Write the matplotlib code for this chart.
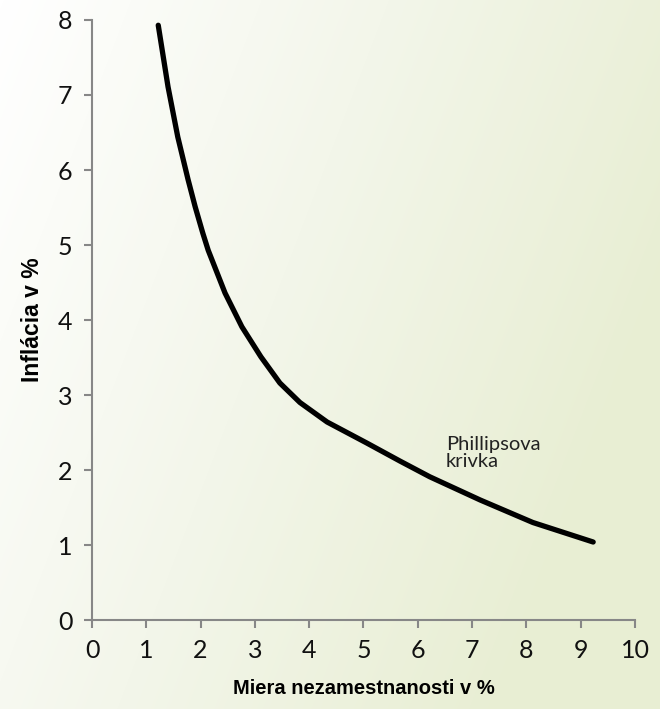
import numpy as np
import matplotlib
matplotlib.use("Agg")
import matplotlib.pyplot as plt
from matplotlib.colors import LinearSegmentedColormap

# Data
unemployment = [1.22, 1.40, 1.58, 1.77, 1.90, 2.04, 2.14, 2.45, 2.76, 3.11, 3.46,
                3.83, 4.33, 5.06, 5.67, 6.22, 7.15, 8.12, 9.23]
inflation    = [7.93, 7.11, 6.44, 5.87, 5.51, 5.16, 4.93, 4.36, 3.91, 3.51, 3.16,
                2.90, 2.64, 2.36, 2.12, 1.91, 1.60, 1.30, 1.04]
x_ticks = list(range(0, 11))
y_ticks = list(range(0, 9))
curve_label = "Phillipsova\nkrivka"
x_label = "Miera nezamestnanosti v %"
y_label = "Inflácia v %"

fig = plt.figure(figsize=(6.6, 7.09), dpi=100)

# gradient background
bg = fig.add_axes([0, 0, 1, 1], zorder=-10)
h, w = 709, 660
yy, xx = np.mgrid[0:h, 0:w]
t = np.clip((xx / w) * 0.85 + (yy / h) * 0.35, 0, 1)
cmap = LinearSegmentedColormap.from_list("bg", ["#ffffff", "#f3f6ea", "#e8eed3"])
bg.imshow(t, cmap=cmap, aspect="auto", extent=[0, 1, 0, 1], origin="upper")
bg.axis("off")

ax = fig.add_axes([0.1394, 0.1255, 0.8227, 0.8463])
ax.patch.set_alpha(0)
ax.plot(unemployment, inflation, color="black", lw=3.8, solid_capstyle="round",
        solid_joinstyle="round")

ax.set_xlim(0, 10)
ax.set_ylim(0, 8)
ax.set_xticks(x_ticks)
ax.set_yticks(y_ticks)
for s in ["top", "right"]:
    ax.spines[s].set_visible(False)
for s in ["left", "bottom"]:
    ax.spines[s].set_color("#878787")
    ax.spines[s].set_linewidth(1.5)
ax.tick_params(direction="out", length=6, width=1.5, color="#878787",
               labelsize=18, labelcolor="#111111", pad=8)
for lab in ax.get_xticklabels() + ax.get_yticklabels():
    lab.set_fontfamily("Lato")
    lab.set_fontweight("normal")

ax.text(6.52, 2.46, curve_label, fontsize=14.5, family="Lato", fontweight="normal",
        color="#222222", va="top", ha="left", linespacing=1.05)

ax.set_xlabel(x_label, fontsize=14.5, fontweight="bold", family="Liberation Sans",
              labelpad=12)
ax.set_ylabel(y_label, fontsize=16.5, fontweight="bold", family="Liberation Sans",
              labelpad=10)

fig.savefig("out.png", dpi=100)
